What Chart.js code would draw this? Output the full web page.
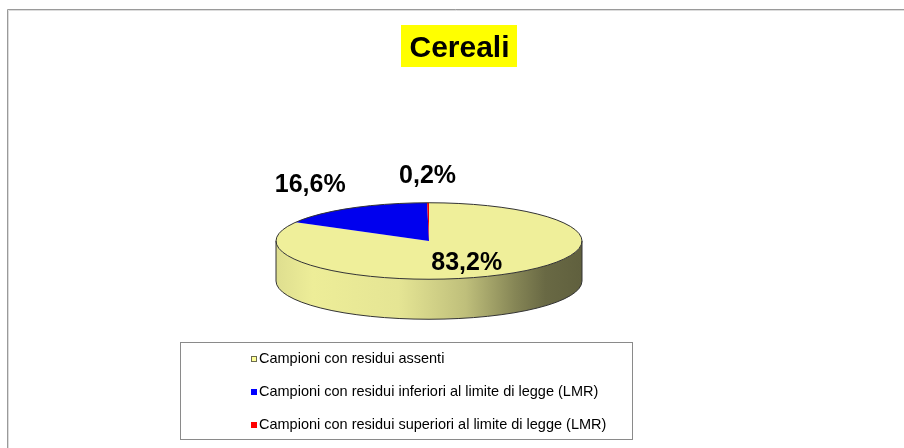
<!DOCTYPE html>
<html><head><meta charset="utf-8">
<script src="https://cdn.jsdelivr.net/npm/chart.js@4.4.0/dist/chart.umd.min.js"></script>
<style>html,body{margin:0;padding:0;background:#fff;overflow:hidden}canvas{display:block}</style>
</head><body>
<canvas id="c" width="904" height="448"></canvas>
<script>
const titleText = 'Cereali';
const categories = [
  'Campioni con residui assenti',
  'Campioni con residui inferiori al limite di legge (LMR)',
  'Campioni con residui superiori al limite di legge (LMR)'
];
const percentages = [83.2, 16.6, 0.2];
const sliceColors = ['#EFEF9A', '#0000EE', '#EE0000'];
const legendColors = ['#FFFF99', '#0000FF', '#FF0000'];

const FONT = '"Liberation Sans", Arial, Helvetica, sans-serif';
const TILT = 0.25;   // vertical squash of the pie top (ry / rx)
const DEPTH = 40;    // thickness of the 3D side

function rgb(hex) {
  const n = parseInt(hex.slice(1), 16);
  return [(n >> 16) & 255, (n >> 8) & 255, n & 255];
}
function shade(hex, f) {
  const c = rgb(hex).map(v => Math.max(0, Math.min(255, Math.round(v * f))));
  return 'rgb(' + c.join(',') + ')';
}
function fmt(v) { return v.toFixed(1).replace('.', ',') + '%'; }

const pie3d = {
  id: 'pie3d',
  beforeDraw(chart) {
    const ctx = chart.ctx;
    ctx.save();
    ctx.fillStyle = '#fff';
    ctx.fillRect(0, 0, chart.width, chart.height);
    // outer frame (top + left edges visible)
    ctx.lineWidth = 1;
    ctx.strokeStyle = '#dcdcdc';
    ctx.beginPath();
    ctx.moveTo(8.5, chart.height); ctx.lineTo(8.5, 10.5); ctx.lineTo(chart.width, 10.5);
    ctx.stroke();
    ctx.strokeStyle = '#9a9a9a';
    ctx.beginPath();
    ctx.moveTo(7.5, chart.height); ctx.lineTo(7.5, 9.5); ctx.lineTo(chart.width, 9.5);
    ctx.stroke();

    // title with yellow highlight
    ctx.font = 'bold 30px ' + FONT;
    const tw = ctx.measureText(titleText).width;
    const tx = 459.5;
    ctx.fillStyle = '#FFFF00';
    ctx.fillRect(Math.round(tx - tw / 2 - 8), 25, Math.round(tw + 16), 42);
    ctx.fillStyle = '#000';
    ctx.textAlign = 'center';
    ctx.textBaseline = 'alphabetic';
    ctx.fillText(titleText, tx, 57);

    // legend box
    const L = 180.5, T = 342.5, W = 452, H = 97;
    ctx.strokeStyle = '#8a8a8a';
    ctx.lineWidth = 1;
    ctx.strokeRect(L, T, W, H);
    ctx.font = '14.5px ' + FONT;
    ctx.textAlign = 'left';
    chart.data.labels.forEach((lab, i) => {
      const cyRow = 358.5 + i * 33;
      ctx.fillStyle = legendColors[i];
      ctx.fillRect(251, cyRow - 2.5, 6, 6);
      if (i === 0) {
        ctx.strokeStyle = '#6a6a50';
        ctx.strokeRect(251.5, cyRow - 2, 5, 5);
      }
      ctx.fillStyle = '#000';
      ctx.fillText(lab, 259, cyRow + 4.8);
    });
    ctx.restore();
  },
  beforeDatasetsDraw(chart) {
    const ctx = chart.ctx;
    const meta = chart.getDatasetMeta(0);
    const first = meta.data[0];
    const cx = first.x, cy = first.y, R = first.outerRadius, ry = R * TILT;
    // side walls (front half only)
    meta.data.forEach((arc, i) => {
      const s = arc.startAngle, e = arc.endAngle;
      const color = chart.data.datasets[0].backgroundColor[i];
      for (const off of [-2 * Math.PI, 0, 2 * Math.PI]) {
        const a1 = Math.max(s, off), a2 = Math.min(e, off + Math.PI);
        if (a2 <= a1) continue;
        const g = ctx.createLinearGradient(cx - R, 0, cx + R, 0);
        g.addColorStop(0, shade(color, 0.93));
        g.addColorStop(0.12, shade(color, 0.99));
        g.addColorStop(0.40, shade(color, 0.96));
        g.addColorStop(0.62, shade(color, 0.80));
        g.addColorStop(0.78, shade(color, 0.56));
        g.addColorStop(0.88, shade(color, 0.44));
        g.addColorStop(1, shade(color, 0.40));
        ctx.save();
        ctx.fillStyle = g;
        ctx.beginPath();
        ctx.ellipse(cx, cy, R, ry, 0, a1, a2, false);
        ctx.lineTo(cx + R * Math.cos(a2), cy + ry * Math.sin(a2) + DEPTH);
        ctx.ellipse(cx, cy + DEPTH, R, ry, 0, a2, a1, true);
        ctx.closePath();
        ctx.fill();
        ctx.restore();
      }
    });
    // squash the library-drawn pie into the top ellipse
    ctx.save();
    ctx.translate(cx, cy);
    ctx.scale(1, TILT);
    ctx.translate(-cx, -cy);
  },
  afterDatasetsDraw(chart) {
    const ctx = chart.ctx;
    ctx.restore();
    const meta = chart.getDatasetMeta(0);
    const first = meta.data[0];
    const cx = first.x, cy = first.y, R = first.outerRadius, ry = R * TILT;
    ctx.save();
    ctx.strokeStyle = '#333';
    ctx.lineWidth = 1;
    ctx.beginPath();
    ctx.ellipse(cx, cy, R, ry, 0, 0, Math.PI * 2);
    ctx.stroke();
    ctx.beginPath();
    ctx.moveTo(cx + R, cy);
    ctx.lineTo(cx + R, cy + DEPTH);
    ctx.ellipse(cx, cy + DEPTH, R, ry, 0, 0, Math.PI, false);
    ctx.lineTo(cx - R, cy);
    ctx.stroke();

    // percentage labels
    ctx.font = 'bold 25px ' + FONT;
    ctx.fillStyle = '#000';
    ctx.textAlign = 'center';
    ctx.textBaseline = 'alphabetic';
    const vals = chart.data.datasets[0].data;
    meta.data.forEach((arc, i) => {
      const m = (arc.startAngle + arc.endAngle) / 2;
      let lx, ly;
      if (vals[i] > 30) {
        lx = cx + R * 0.49 * Math.cos(m);
        ly = cy + ry * 0.6 * Math.sin(m);
      } else {
        lx = cx + R * 1.525 * Math.cos(m);
        ly = cy + (ry + 29) * Math.sin(m);
      }
      ctx.fillText(fmt(vals[i]), lx, ly + 9);
    });
    ctx.restore();
  }
};

new Chart(document.getElementById('c'), {
  type: 'pie',
  data: {
    labels: categories,
    datasets: [{ data: percentages, backgroundColor: sliceColors, borderWidth: 0, hoverOffset: 0, clip: false }]
  },
  options: {
    responsive: false,
    devicePixelRatio: 1,
    animation: false,
    rotation: 0,
    circumference: 360,
    layout: { padding: { left: 276, right: 322, top: 81, bottom: 47 } },
    plugins: {
      legend: { display: false },
      tooltip: { enabled: false },
      title: { display: false, text: titleText }
    },
    events: []
  },
  plugins: [pie3d]
});
</script>
</body></html>
